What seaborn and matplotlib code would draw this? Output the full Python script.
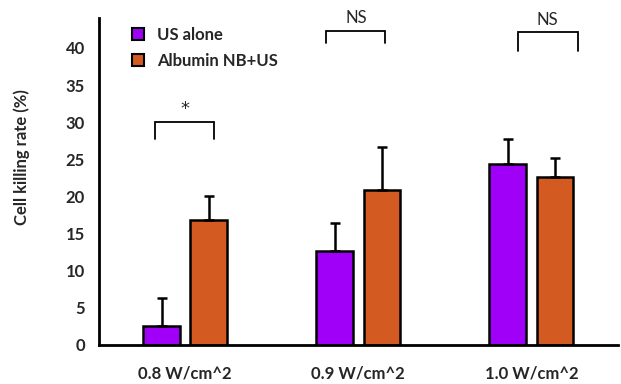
import matplotlib
matplotlib.use("Agg")
import matplotlib.pyplot as plt
import seaborn as sns
import pandas as pd
import numpy as np

categories = ["0.8 W/cm^2", "0.9 W/cm^2", "1.0 W/cm^2"]
series_names = ["US alone", "Albumin NB+US"]
us_alone = [2.6, 12.6, 24.4]
albumin_nb_us = [16.8, 20.9, 22.6]
us_alone_err = [3.7, 3.8, 3.3]
albumin_nb_us_err = [3.3, 5.7, 2.6]
sig_labels = ["*", "NS", "NS"]
yticks = [0, 5, 10, 15, 20, 25, 30, 35, 40]

colors = ["#A000F8", "#D35A20"]

sns.set_style("white")
plt.rcParams["font.family"] = ["Lato", "DejaVu Sans"]
plt.rcParams["font.weight"] = "bold"

df = pd.DataFrame({
    "dose": categories * 2,
    "group": [series_names[0]] * 3 + [series_names[1]] * 3,
    "value": us_alone + albumin_nb_us,
})

fig = plt.figure(figsize=(6.21, 3.84), dpi=100)
ax = fig.add_axes([0.159, 0.1016, 0.836, 0.851])

sns.barplot(data=df, x="dose", y="value", hue="group", hue_order=series_names,
            order=categories, palette=colors, width=0.545, gap=0.22,
            edgecolor="black", linewidth=1.8, errorbar=None, ax=ax, saturation=1)

# error bars (upper only)
errs = [us_alone_err, albumin_nb_us_err]
vals = [us_alone, albumin_nb_us]
for si in range(2):
    xs, ys, es = [], [], []
    for ci in range(3):
        p = ax.patches[si * 3 + ci]
        xs.append(p.get_x() + p.get_width() / 2)
        ys.append(vals[si][ci])
        es.append(errs[si][ci])
    ax.errorbar(xs, ys, yerr=[np.zeros(3), es], fmt="none", ecolor="black",
                elinewidth=1.8, capsize=3.5, capthick=1.8, zorder=5)

# significance brackets
brackets = [(-0.177, 0.168, 27.7, 30.0), (0.815, 1.157, 40.7, 42.3), (1.921, 2.267, 39.6, 42.1)]
for (x0, x1, yl, yt), lab in zip(brackets, sig_labels):
    ax.plot([x0, x0, x1, x1], [yl, yt, yt, yl], color="black", lw=1.3, solid_joinstyle="miter",
            clip_on=False)
    if lab == "*":
        ax.text((x0 + x1) / 2, yt + 0.6, lab, ha="center", va="bottom", fontsize=13,
                fontweight="normal", family="DejaVu Sans")
    else:
        ax.text((x0 + x1) / 2, yt + 0.6, lab, ha="center", va="bottom", fontsize=12,
                fontweight="normal", clip_on=False)

ax.set_xlim(-0.5, 2.5)
ax.set_ylim(0, 44)
ax.set_yticks(yticks)
ax.set_yticklabels([str(t) for t in yticks], fontsize=12, fontweight="bold")
ax.set_xticks(range(3))
ax.set_xticklabels(categories, fontsize=12, fontweight="bold")
ax.set_xlabel("")
ax.set_ylabel("Cell killing rate (%)", fontsize=12, fontweight="bold")
ax.yaxis.set_label_coords(-0.133, 0.575)

for s in ["top", "right"]:
    ax.spines[s].set_visible(False)
for s in ["left", "bottom"]:
    ax.spines[s].set_color("black")
    ax.spines[s].set_linewidth(2)
ax.tick_params(axis="y", direction="out", length=4, width=2, color="black", pad=6)
ax.tick_params(axis="x", length=0, pad=15)

leg = ax.legend(loc="upper left", bbox_to_anchor=(0.035, 1.02), frameon=False,
                fontsize=12, handlelength=0.7, handleheight=0.7, handletextpad=0.8,
                labelspacing=0.6)
for t in leg.get_texts():
    t.set_fontweight("bold")
for h in leg.legend_handles:
    h.set_linewidth(1.5)
    h.set_edgecolor("black")

fig.savefig("out.png", dpi=100)
